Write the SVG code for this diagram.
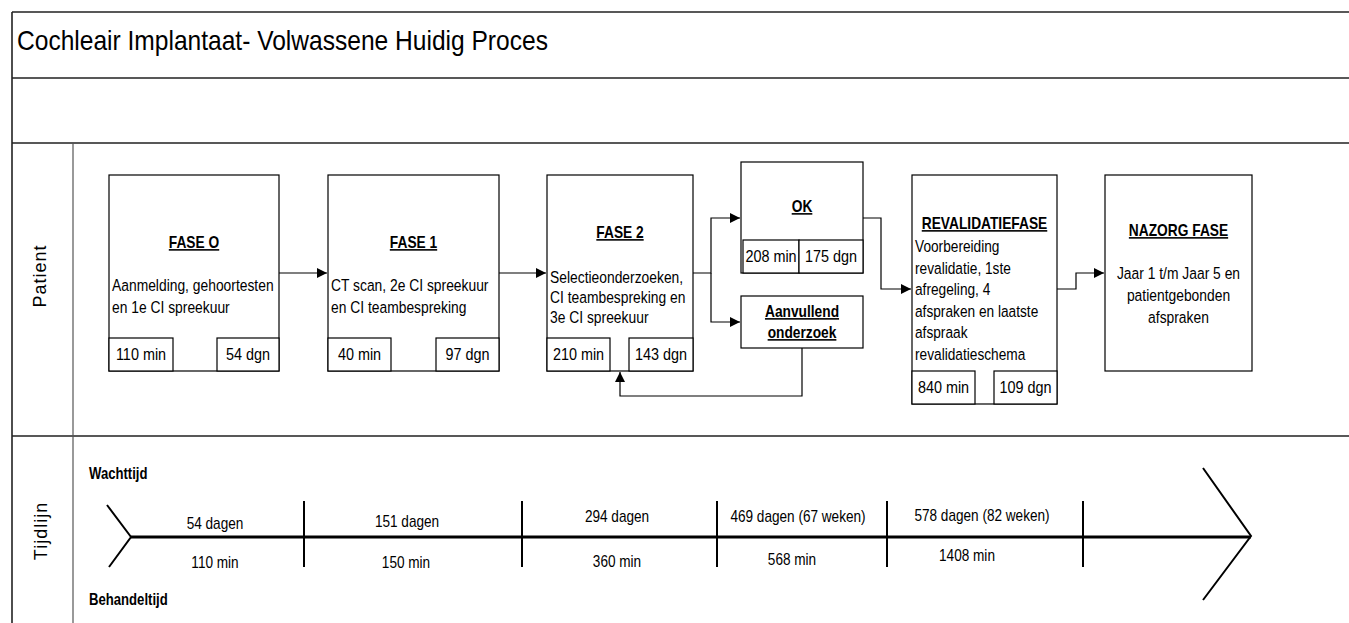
<svg xmlns="http://www.w3.org/2000/svg" width="1349" height="623" viewBox="0 0 1349 623">
<defs>
<style>
.t{font-family:"Liberation Sans",Arial,sans-serif;fill:#000}
.b{font-size:16.5px}
.h{font-size:16px;font-weight:bold;text-decoration:underline}
.s{font-size:16px}
.m{text-anchor:middle}
.box{fill:#fff;stroke:#000;stroke-width:1.2}
.lane{stroke:#222;stroke-width:1.6;fill:none}
.con{fill:none;stroke:#000;stroke-width:1.2}
.tl{fill:none;stroke:#000}
.lbl{font-family:"Liberation Sans",Arial,sans-serif;font-size:18px;letter-spacing:1px;fill:#000}
</style>
<marker id="arr" markerUnits="userSpaceOnUse" markerWidth="11" markerHeight="11" refX="10" refY="5" orient="auto">
<path d="M0,0 L10,5 L0,10 z" fill="#000"/>
</marker>
</defs>
<rect width="1349" height="623" fill="#fff"/>

<g id="frame">
<path class="lane" d="M12,12 H1349 M12,12 V623 M12,78 H1349 M12,143 H1349 M12,436 H1349"/>
<path d="M73,143 V623" stroke="#555" stroke-width="1.2"/>
<text class="t" font-size="27" transform="matrix(0.91,0,0,1,17,50)">Cochleair Implantaat- Volwassene Huidig Proces</text>
</g>

<g id="lane-patient">
<text class="lbl" text-anchor="middle" transform="translate(46,276) rotate(-90)">Patient</text>
</g>
<g id="lane-tijdlijn">
<text class="lbl" text-anchor="middle" font-size="20" letter-spacing="2.5" transform="translate(47,531) rotate(-90)">Tijdlijn</text>
</g>

<g id="connectors">
<path class="con" d="M279,273 H327" marker-end="url(#arr)"/>
<path class="con" d="M499,273 H546" marker-end="url(#arr)"/>
<path class="con" d="M693,273 H711 V218 H740" marker-end="url(#arr)"/>
<path class="con" d="M711,273 V322 H740" marker-end="url(#arr)"/>
<path class="con" d="M802,348 V396 H620 V372" marker-end="url(#arr)" stroke="#444"/>
<path class="con" d="M863,218 H881 V289 H911" marker-end="url(#arr)"/>
<path class="con" d="M1057,289 H1076 V273 H1104" marker-end="url(#arr)"/>
</g>

<g id="fase0">
<rect class="box" x="109" y="175" width="170" height="196"/>
<rect class="box" x="109" y="338" width="64" height="33"/>
<rect class="box" x="217" y="338" width="62" height="33"/>
<text class="t h m" transform="matrix(0.86,0,0,1,194,248)">FASE O</text>
<text class="t b" transform="matrix(0.84,0,0,1,112,291)">Aanmelding, gehoortesten</text>
<text class="t b" transform="matrix(0.84,0,0,1,112,313)">en 1e CI spreekuur</text>
<text class="t s m" transform="matrix(0.9,0,0,1,141,360)">110 min</text>
<text class="t s m" transform="matrix(0.9,0,0,1,248,360)">54 dgn</text>
</g>

<g id="fase1">
<rect class="box" x="328" y="175" width="171" height="196"/>
<rect class="box" x="328" y="338" width="63" height="33"/>
<rect class="box" x="436" y="338" width="63" height="33"/>
<text class="t h m" transform="matrix(0.86,0,0,1,413.5,248)">FASE 1</text>
<text class="t b" transform="matrix(0.84,0,0,1,331,291)">CT scan, 2e CI spreekuur</text>
<text class="t b" transform="matrix(0.84,0,0,1,331,313)">en CI teambespreking</text>
<text class="t s m" transform="matrix(0.9,0,0,1,359.5,360)">40 min</text>
<text class="t s m" transform="matrix(0.9,0,0,1,467.5,360)">97 dgn</text>
</g>

<g id="fase2">
<rect class="box" x="547" y="175" width="146" height="196"/>
<rect class="box" x="547" y="338" width="63" height="33"/>
<rect class="box" x="629" y="338" width="64" height="33"/>
<text class="t h m" transform="matrix(0.86,0,0,1,620,238)">FASE 2</text>
<text class="t b" transform="matrix(0.84,0,0,1,550,283)">Selectieonderzoeken,</text>
<text class="t b" transform="matrix(0.84,0,0,1,550,303)">CI teambespreking en</text>
<text class="t b" transform="matrix(0.84,0,0,1,550,323)">3e CI spreekuur</text>
<text class="t s m" transform="matrix(0.9,0,0,1,578.5,360)">210 min</text>
<text class="t s m" transform="matrix(0.9,0,0,1,661,360)">143 dgn</text>
</g>

<g id="ok">
<rect class="box" x="741" y="162" width="122" height="111"/>
<rect class="box" x="743" y="240" width="56" height="33"/>
<rect class="box" x="799" y="240" width="64" height="33"/>
<text class="t h m" transform="matrix(0.86,0,0,1,802,212)">OK</text>
<text class="t s m" transform="matrix(0.9,0,0,1,771,262)">208 min</text>
<text class="t s m" transform="matrix(0.9,0,0,1,831,262)">175 dgn</text>
</g>

<g id="aanvullend">
<rect class="box" x="741" y="296" width="122" height="52"/>
<text class="t h m" transform="matrix(0.86,0,0,1,802,317)">Aanvullend</text>
<text class="t h m" transform="matrix(0.86,0,0,1,802,338)">onderzoek</text>
</g>

<g id="revalidatie">
<rect class="box" x="912" y="175" width="145" height="229"/>
<rect class="box" x="912" y="371" width="63" height="33"/>
<rect class="box" x="994" y="371" width="63" height="33"/>
<text class="t h m" transform="matrix(0.86,0,0,1,984.5,229)">REVALIDATIEFASE</text>
<text class="t b" transform="matrix(0.83,0,0,1,915,252)">Voorbereiding</text>
<text class="t b" transform="matrix(0.83,0,0,1,915,273.5)">revalidatie, 1ste</text>
<text class="t b" transform="matrix(0.83,0,0,1,915,295)">afregeling, 4</text>
<text class="t b" transform="matrix(0.83,0,0,1,915,316.5)">afspraken en laatste</text>
<text class="t b" transform="matrix(0.83,0,0,1,915,338)">afspraak</text>
<text class="t b" transform="matrix(0.83,0,0,1,915,359.5)">revalidatieschema</text>
<text class="t s m" transform="matrix(0.9,0,0,1,943.5,393)">840 min</text>
<text class="t s m" transform="matrix(0.9,0,0,1,1025.5,393)">109 dgn</text>
</g>

<g id="nazorg">
<rect class="box" x="1105" y="175" width="147" height="196"/>
<text class="t h m" transform="matrix(0.86,0,0,1,1178.5,236)">NAZORG FASE</text>
<text class="t b m" transform="matrix(0.84,0,0,1,1178.5,279)">Jaar 1 t/m Jaar 5 en</text>
<text class="t b m" transform="matrix(0.84,0,0,1,1178.5,301)">patientgebonden</text>
<text class="t b m" transform="matrix(0.84,0,0,1,1178.5,323)">afspraken</text>
</g>

<g id="timeline">
<path class="tl" stroke-width="3" d="M131,537 H1251"/>
<path class="tl" stroke-width="2" d="M107,505 L131,537 L109,567"/>
<path class="tl" stroke-width="2" d="M1203,468 L1251,536 L1203,600"/>
<path class="tl" stroke-width="2" d="M304,501 V567 M522,501 V567 M717,501 V567 M887,501 V567 M1083,501 V567"/>
<text class="t" font-size="16" font-weight="bold" transform="matrix(0.82,0,0,1,89,479)">Wachttijd</text>
<text class="t" font-size="16" font-weight="bold" transform="matrix(0.82,0,0,1,89,605)">Behandeltijd</text>
<text class="t s m" transform="matrix(0.85,0,0,1,215,529)">54 dagen</text>
<text class="t s m" transform="matrix(0.85,0,0,1,215,568)">110 min</text>
<text class="t s m" transform="matrix(0.85,0,0,1,407,527)">151 dagen</text>
<text class="t s m" transform="matrix(0.85,0,0,1,406,568)">150 min</text>
<text class="t s m" transform="matrix(0.85,0,0,1,617,522)">294 dagen</text>
<text class="t s m" transform="matrix(0.85,0,0,1,617,567)">360 min</text>
<text class="t s m" transform="matrix(0.85,0,0,1,798,522)">469 dagen (67 weken)</text>
<text class="t s m" transform="matrix(0.85,0,0,1,792,565)">568 min</text>
<text class="t s m" transform="matrix(0.85,0,0,1,982,521)">578 dagen (82 weken)</text>
<text class="t s m" transform="matrix(0.85,0,0,1,967,561)">1408 min</text>
</g>
</svg>
